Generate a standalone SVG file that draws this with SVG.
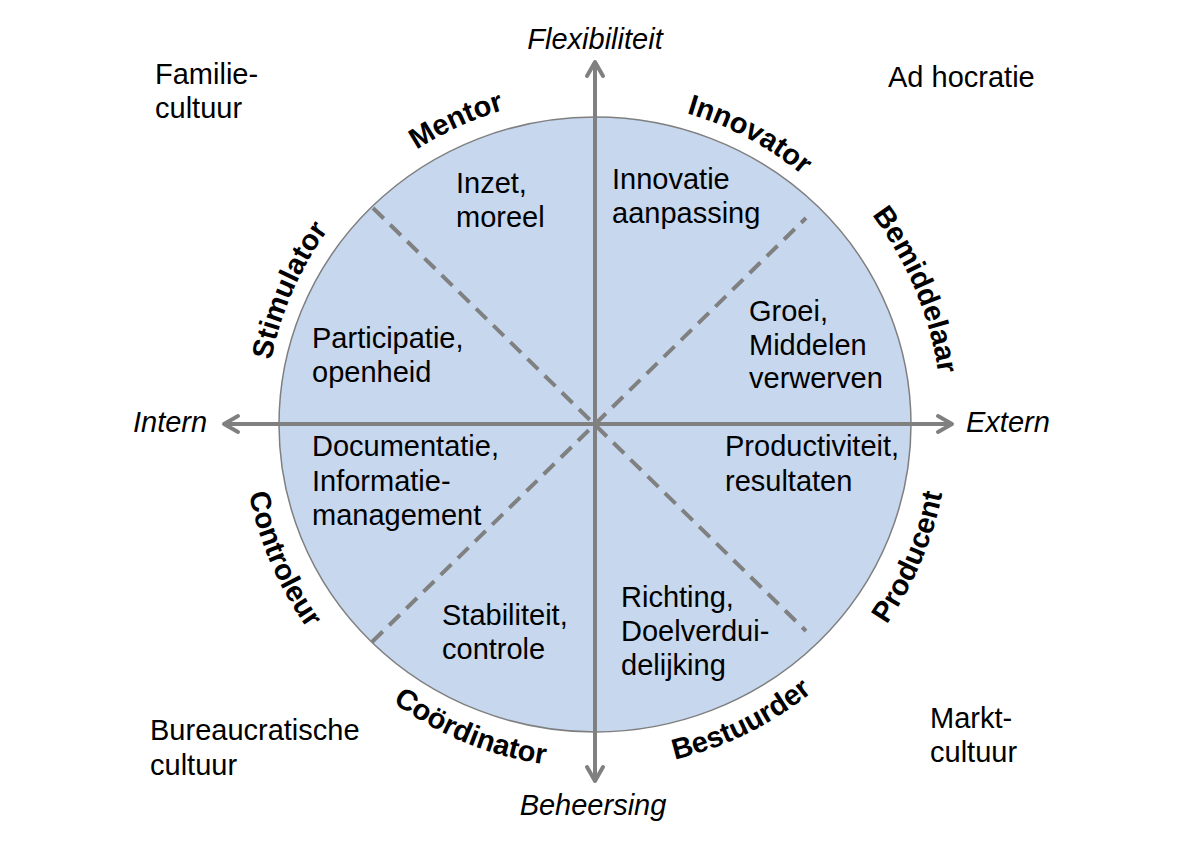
<svg xmlns="http://www.w3.org/2000/svg" width="1200" height="853" viewBox="0 0 1200 853">
<style>
.t{font-family:"Liberation Sans",Arial,sans-serif;font-size:29px;fill:#000}
.ax{font-family:"Liberation Sans",Arial,sans-serif;font-size:29px;font-style:italic;fill:#000}
.role{font-family:"Liberation Sans",Arial,sans-serif;font-size:29px;font-weight:bold;fill:#000}
.axis{stroke:#808080;stroke-width:4;fill:none}
.dash{stroke:#808080;stroke-width:4;stroke-dasharray:15 9;fill:none}
</style>
<defs>
<marker id="arr" viewBox="-20 -12 24 24" markerWidth="24" markerHeight="24" refX="0" refY="0" orient="auto-start-reverse" markerUnits="userSpaceOnUse">
<path d="M-14,-8 L0,0 L-14,8" fill="none" stroke="#808080" stroke-width="4" stroke-linecap="round" stroke-linejoin="round"/>
</marker>
<path id="pMentor" d="M328.5,234.6 A327,327 0 0 1 625.8,98.4"/>
<path id="pInnovator" d="M584.2,100.2 A324,324 0 0 1 870.1,252.8"/>
<path id="pBemiddelaar" d="M805.3,148.0 A347,347 0 0 1 939.2,468.1"/>
<path id="pStimulator" d="M267.0,460.8 A330,330 0 0 1 399.2,158.4"/>
<path id="pProducent" d="M808.5,706.4 A354,354 0 0 0 946.3,380.2"/>
<path id="pBestuurder" d="M572.1,768.2 A345,345 0 0 0 881.7,615.9"/>
<path id="pCoordinator" d="M323.1,634.8 A344,344 0 0 0 641.7,764.8"/>
<path id="pControleur" d="M244.3,383.4 A353,353 0 0 0 384.5,707.4"/>
</defs>
<rect width="1200" height="853" fill="#fff"/>
<g id="circle">
<ellipse cx="595" cy="424.5" rx="316" ry="307.5" fill="#C6D7EE" stroke="#7F7F7F" stroke-width="1.5"/>
</g>
<g id="connectors">
<line class="dash" x1="373" y1="208" x2="806" y2="631"/>
<line class="dash" x1="372" y1="642" x2="806" y2="218"/>
<line class="axis" x1="595" y1="62" x2="595" y2="781" marker-start="url(#arr)" marker-end="url(#arr)"/>
<line class="axis" x1="224" y1="424" x2="952" y2="424" marker-start="url(#arr)" marker-end="url(#arr)"/>
</g>
<g id="axis-labels">
<text class="ax" x="595" y="49" text-anchor="middle">Flexibiliteit</text>
<text class="ax" x="593" y="815" text-anchor="middle">Beheersing</text>
<text class="ax" x="133" y="432">Intern</text>
<text class="ax" x="966" y="432">Extern</text>
</g>
<g id="q-inzet"><text class="t" x="456" y="193">Inzet,</text><text class="t" x="456" y="227">moreel</text></g>
<g id="q-innovatie"><text class="t" x="612" y="189">Innovatie</text><text class="t" x="612" y="223">aanpassing</text></g>
<g id="q-participatie"><text class="t" x="312" y="348">Participatie,</text><text class="t" x="312" y="382">openheid</text></g>
<g id="q-groei"><text class="t" x="749" y="321">Groei,</text><text class="t" x="749" y="355">Middelen</text><text class="t" x="749" y="388">verwerven</text></g>
<g id="q-documentatie"><text class="t" x="312" y="456">Documentatie,</text><text class="t" x="312" y="491">Informatie-</text><text class="t" x="312" y="525">management</text></g>
<g id="q-productiviteit"><text class="t" x="725" y="456">Productiviteit,</text><text class="t" x="725" y="491">resultaten</text></g>
<g id="q-stabiliteit"><text class="t" x="442" y="625">Stabiliteit,</text><text class="t" x="442" y="659">controle</text></g>
<g id="q-richting"><text class="t" x="621" y="607">Richting,</text><text class="t" x="621" y="641">Doelverdui-</text><text class="t" x="621" y="675">delijking</text></g>
<g id="c-familie"><text class="t" x="155" y="84">Familie-</text><text class="t" x="155" y="118">cultuur</text></g>
<g id="c-adhocratie"><text class="t" x="888" y="87">Ad hocratie</text></g>
<g id="c-bureaucratisch"><text class="t" x="150" y="740">Bureaucratische</text><text class="t" x="150" y="775">cultuur</text></g>
<g id="c-markt"><text class="t" x="930" y="728">Markt-</text><text class="t" x="930" y="762">cultuur</text></g>
<g id="r-mentor"><text class="role" text-anchor="middle"><textPath href="#pMentor" startOffset="50%">Mentor</textPath></text></g>
<g id="r-innovator"><text class="role" text-anchor="middle"><textPath href="#pInnovator" startOffset="50%">Innovator</textPath></text></g>
<g id="r-bemiddelaar"><text class="role" text-anchor="middle"><textPath href="#pBemiddelaar" startOffset="50%">Bemiddelaar</textPath></text></g>
<g id="r-stimulator"><text class="role" text-anchor="middle"><textPath href="#pStimulator" startOffset="50%">Stimulator</textPath></text></g>
<g id="r-producent"><text class="role" text-anchor="middle"><textPath href="#pProducent" startOffset="50%">Producent</textPath></text></g>
<g id="r-bestuurder"><text class="role" text-anchor="middle"><textPath href="#pBestuurder" startOffset="50%">Bestuurder</textPath></text></g>
<g id="r-coordinator"><text class="role" text-anchor="middle"><textPath href="#pCoordinator" startOffset="50%">Coördinator</textPath></text></g>
<g id="r-controleur"><text class="role" text-anchor="middle"><textPath href="#pControleur" startOffset="50%">Controleur</textPath></text></g>
</svg>
